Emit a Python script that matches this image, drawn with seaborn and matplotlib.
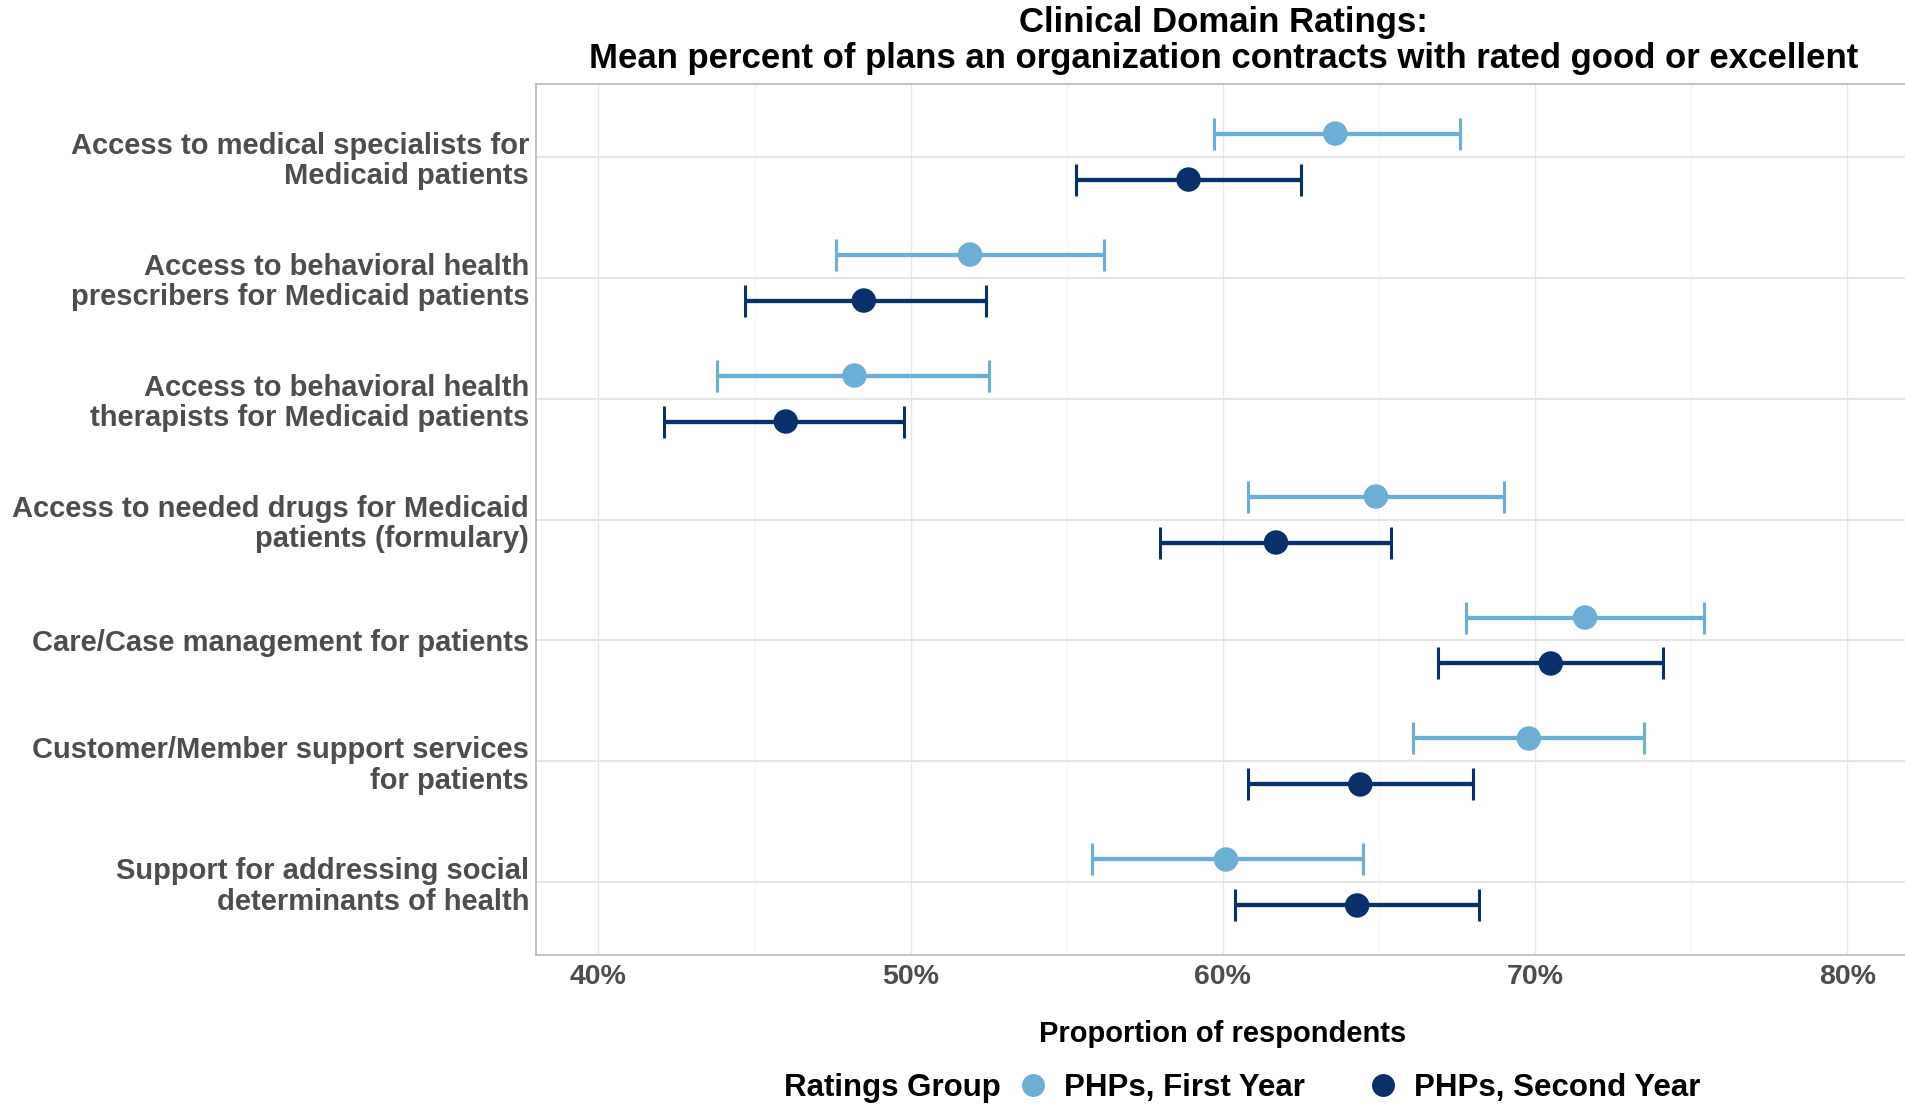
import numpy as np
import pandas as pd
import seaborn as sns
import matplotlib.pyplot as plt
from matplotlib.lines import Line2D
from matplotlib.ticker import FixedLocator, FuncFormatter

# Clinical domains (top to bottom)
domains = [
    "Access to medical specialists for\nMedicaid patients",
    "Access to behavioral health\nprescribers for Medicaid patients",
    "Access to behavioral health\ntherapists for Medicaid patients",
    "Access to needed drugs for Medicaid\npatients (formulary)",
    "Care/Case management for patients",
    "Customer/Member support services\nfor patients",
    "Support for addressing social\ndeterminants of health",
]
groups = ["PHPs, First Year", "PHPs, Second Year"]

# Mean percent rated good/excellent with 95% CI bounds
first_mean = [63.6, 51.9, 48.2, 64.9, 71.6, 69.8, 60.1]
first_lo = [59.7, 47.6, 43.8, 60.8, 67.8, 66.1, 55.8]
first_hi = [67.6, 56.2, 52.5, 69.0, 75.4, 73.5, 64.5]
second_mean = [58.9, 48.5, 46.0, 61.7, 70.5, 64.4, 64.3]
second_lo = [55.3, 44.7, 42.1, 58.0, 66.9, 60.8, 60.4]
second_hi = [62.5, 52.4, 49.8, 65.4, 74.1, 68.0, 68.2]

x_ticks = [40, 50, 60, 70, 80]

colors = {"PHPs, First Year": "#6BAED6", "PHPs, Second Year": "#08306B"}
offsets = {"PHPs, First Year": -0.19, "PHPs, Second Year": 0.19}

rows = []
for i, d in enumerate(domains):
    rows.append(dict(domain=d, idx=i, group=groups[0], mean=first_mean[i],
                     lo=first_lo[i], hi=first_hi[i]))
    rows.append(dict(domain=d, idx=i, group=groups[1], mean=second_mean[i],
                     lo=second_lo[i], hi=second_hi[i]))
df = pd.DataFrame(rows)
df["ypos"] = df["idx"] + df["group"].map(offsets)

sns.set_theme(style="white")
plt.rcParams["font.family"] = ["Liberation Sans", "DejaVu Sans"]
plt.rcParams["text.color"] = "black"

fig = plt.figure(figsize=(19.06, 11.05), dpi=100)
ax = fig.add_axes([0.2812, 0.1357, 0.7208, 0.7883])

# confidence intervals
for g in groups:
    sub = df[df["group"] == g]
    ax.errorbar(sub["mean"], sub["ypos"],
                xerr=[sub["mean"] - sub["lo"], sub["hi"] - sub["mean"]],
                fmt="none", ecolor=colors[g], elinewidth=3.1,
                capsize=11.5, capthick=2.2, zorder=3)

sns.scatterplot(data=df, x="mean", y="ypos", hue="group", palette=colors,
                hue_order=groups, s=310, linewidth=0, ax=ax, zorder=4,
                legend=False)

ax.set_xlim(38, 82)
ax.set_ylim(6.6, -0.6)

ax.xaxis.set_major_locator(FixedLocator(x_ticks))
ax.xaxis.set_minor_locator(FixedLocator([45, 55, 65, 75]))
ax.xaxis.set_major_formatter(FuncFormatter(lambda v, p: f"{v:.0f}%"))
ax.set_yticks(range(len(domains)))
ax.set_yticklabels(domains)

ax.grid(True, which="major", axis="x", color="#E6E6E6", linewidth=1.0)
ax.grid(True, which="minor", axis="x", color="#F2F2F2", linewidth=0.8)
ax.grid(True, which="major", axis="y", color="#E3E3E3", linewidth=1.3)
ax.set_axisbelow(True)

for side in ["left", "bottom", "top", "right"]:
    ax.spines[side].set_color("#BDBDBD")
    ax.spines[side].set_linewidth(1.3)

ax.tick_params(axis="both", which="major", length=3.5, width=1.0,
               color="#BDBDBD", labelcolor="#4D4D4D")
ax.tick_params(axis="x", which="major", labelsize=20.5, pad=3)
ax.tick_params(axis="y", which="major", labelsize=21, pad=1.5)
ax.tick_params(axis="x", which="minor", length=0)
for lab in ax.get_yticklabels() + ax.get_xticklabels():
    lab.set_fontweight("bold")
for lab in ax.get_yticklabels():
    lab.set_linespacing(1.1)

ax.set_xlabel("Proportion of respondents", fontsize=21, fontweight="bold",
              color="black")
ax.xaxis.label.set_va("center")
ax.xaxis.set_label_coords(0.5, -0.0907)
ax.set_ylabel("")

fig.text(0.6418, 0.980, "Clinical Domain Ratings:", ha="center", va="center",
         fontsize=25, fontweight="bold", color="black")
fig.text(0.6418, 0.9475,
         "Mean percent of plans an organization contracts with rated good or excellent",
         ha="center", va="center", fontsize=25, fontweight="bold", color="black")

# legend along the bottom, title on the left
fig.text(0.4113, 0.0154, "Ratings Group", ha="left", va="center",
         fontsize=22.5, fontweight="bold", color="black")
handles = [Line2D([0], [0], marker="o", linestyle="none", markersize=16.5,
                  markerfacecolor=colors[g], markeredgewidth=0) for g in groups]
leg = fig.legend(handles, groups, loc="center left", bbox_to_anchor=(0.5354, 0.0154),
                 ncol=2, frameon=False, borderpad=0, borderaxespad=0,
                 handlelength=0.8, handletextpad=0.6, columnspacing=2.1,
                 labelcolor="black", prop={"weight": "bold", "size": 22.5})

fig.savefig("out.png", dpi=100)
